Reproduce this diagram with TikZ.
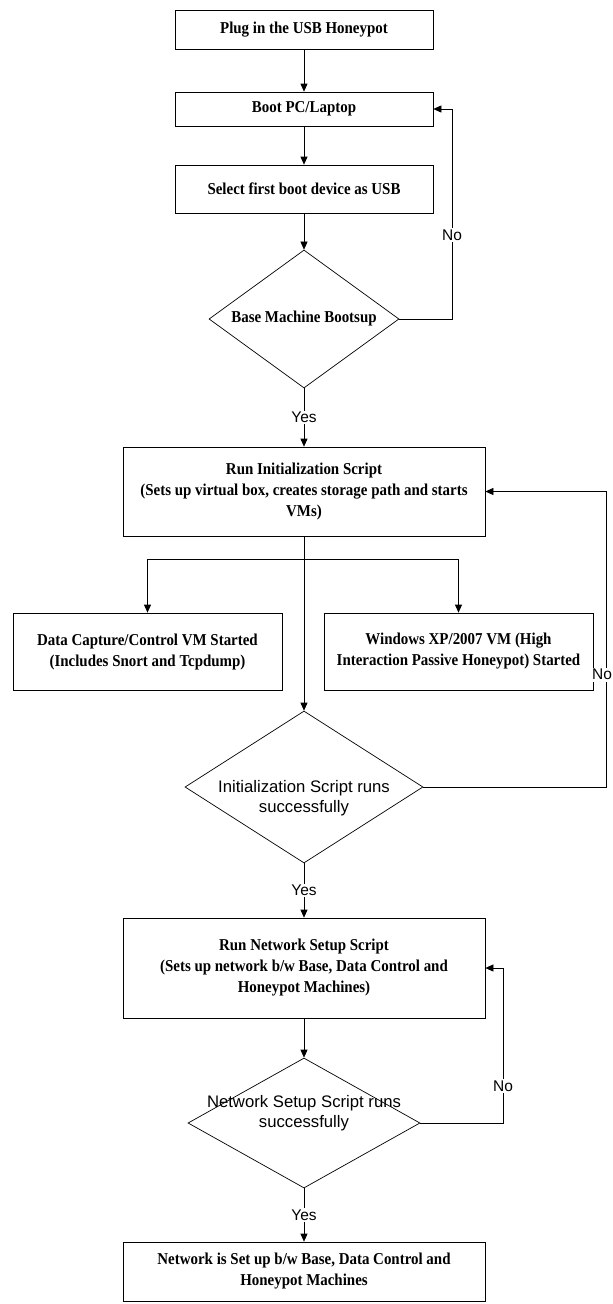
\documentclass[tikz,border=0pt]{standalone}
\usepackage{fontspec}
\usetikzlibrary{shapes.geometric,arrows.meta}
\newfontfamily\boxfont{Liberation Serif}[FakeStretch=0.9]
\newfontfamily\labelfont{Liberation Sans}

\begin{document}
\begin{tikzpicture}[x=1pt,y=-1pt,line width=0.7pt,>={Triangle[length=8pt,width=7pt]},
    stepbox/.style={draw,rectangle,inner sep=0pt,align=center,font=\boxfont\bfseries\fontsize{16.6}{21}\selectfont},
    decision/.style={draw,diamond,inner sep=0pt,aspect=1.4},
    dectext/.style={align=center,font=\labelfont\fontsize{16.7}{20}\selectfont},
    answer/.style={fill=white,inner sep=1.5pt,font=\labelfont\fontsize{15.5}{18}\selectfont}]
    \useasboundingbox (0,0) rectangle (613,1304);

    \node[stepbox,minimum width=258pt,minimum height=39pt] (Plug) at (304,29.5) {Plug in the USB Honeypot};
    \node[stepbox,minimum width=258pt,minimum height=34pt] (Boot) at (304,109) {Boot PC/Laptop};
    \node[stepbox,minimum width=258pt,minimum height=48pt] (Select) at (304,189) {Select first boot device as USB};
    \node[decision,minimum width=190pt,minimum height=138pt,font=\boxfont\bfseries\fontsize{16.6}{21}\selectfont] (BaseUp) at (304,319) {Base Machine Bootsup};
    \node[stepbox,minimum width=362pt,minimum height=89pt] (InitScript) at (304,491.5) {Run Initialization Script\\(Sets up virtual box, creates storage path and starts\\VMs)};
    \coordinate (InitSplit) at (304,559);
    \node[stepbox,minimum width=269pt,minimum height=77pt] (CaptureVM) at (147.5,651.5) {Data Capture/Control VM Started\\(Includes Snort and Tcpdump)};
    \node[stepbox,minimum width=269pt,minimum height=77pt] (HoneyVM) at (458.5,651.5) {Windows XP/2007 VM (High\\Interaction Passive Honeypot) Started};
    \node[decision,minimum width=238pt,minimum height=152pt] (InitOk) at (304,787) {};
    \node[dectext] (InitOkText) at (304,798) {Initialization Script runs\\successfully};
    \node[stepbox,minimum width=362pt,minimum height=100pt] (NetScript) at (304,968) {Run Network Setup Script\\(Sets up network b/w Base, Data Control and\\Honeypot Machines)};
    \node[decision,minimum width=232pt,minimum height=130pt] (NetOk) at (304,1123) {};
    \node[dectext] (NetOkText) at (304,1113) {Network Setup Script runs\\successfully};
    \node[stepbox,minimum width=362pt,minimum height=59pt] (NetDone) at (304,1271.5) {Network is Set up b/w Base, Data Control and\\Honeypot Machines};

    \coordinate (BootLoop) at (452,109);
    \coordinate (InitLoop) at (606,491.5);
    \coordinate (NetLoop) at (503,968);

    \begin{scope}[every path/.style={->}]
       \draw (Plug) -- (Boot);
       \draw (Boot) -- (Select);
       \draw (Select) -- (BaseUp);
       \draw (BaseUp.east) -| node[answer,pos=0.7] {No} (BootLoop) -- (Boot.east);
       \draw (BaseUp) -- node[answer] {Yes} (InitScript);
       \draw (InitScript) -- (InitOk);
       \draw (InitSplit) -| (CaptureVM);
       \draw (InitSplit) -| (HoneyVM);
       \draw (InitOk.east) -| node[answer,pos=0.69,xshift=-4pt] {No} (InitLoop) -- (InitScript.east);
       \draw (InitOk) -- node[answer] {Yes} (NetScript);
       \draw (NetScript) -- (NetOk);
       \draw (NetOk.east) -| node[answer,pos=0.62] {No} (NetLoop) -- (NetScript.east);
       \draw (NetOk) -- node[answer] {Yes} (NetDone);
    \end{scope}
\end{tikzpicture}
\end{document}
